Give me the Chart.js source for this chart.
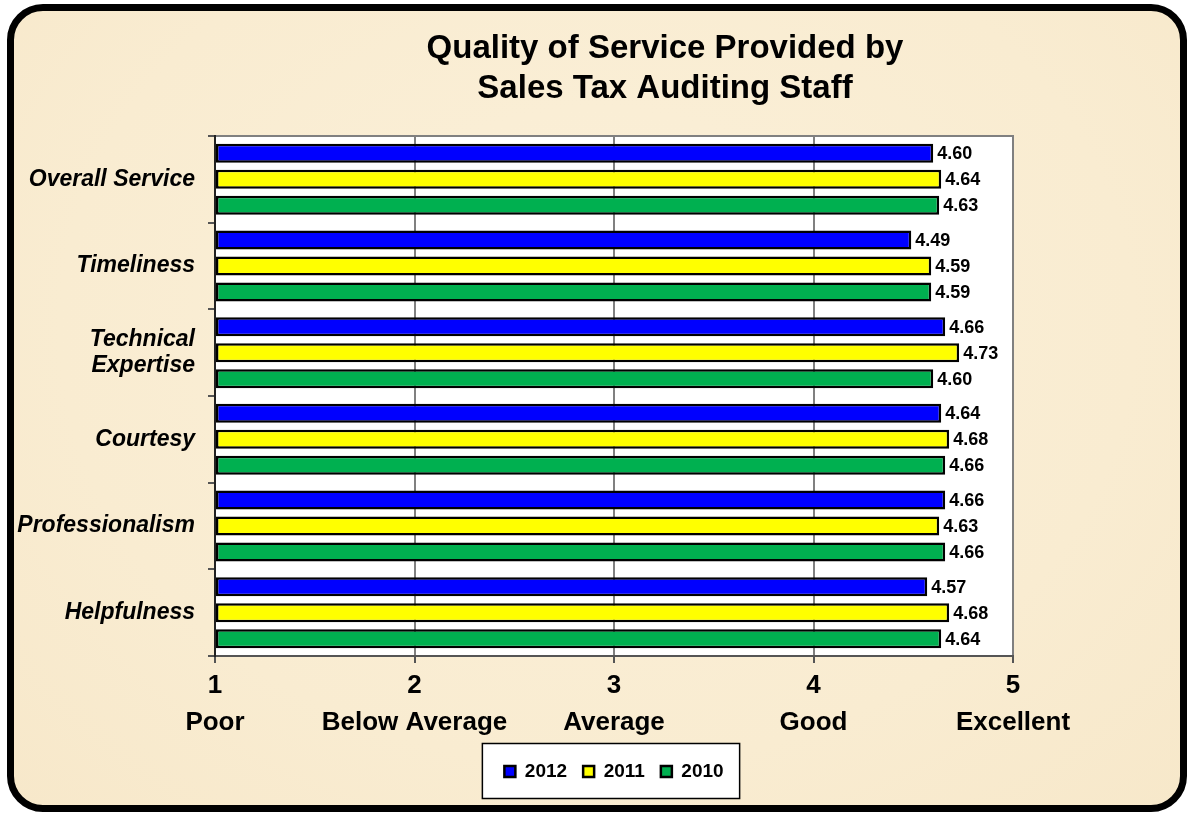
<!DOCTYPE html>
<html>
<head>
    <title>Quality of Service - Sales Tax Auditing Staff</title>
    <style>
        body {
            margin: 0;
            background: #ffffff;
        }
        #frame {
            position: absolute;
            left: 7px;
            top: 4px;
            width: 1180px;
            height: 808px;
            box-sizing: border-box;
            border: 7px solid #000;
            border-radius: 36px;
            background: radial-gradient(ellipse at 50% 40%, #fbf0d9 0%, #f9ecd1 65%, #f7e8ca 100%);
        }
        #chart {
            position: absolute;
            left: 0;
            top: 0;
        }
    </style>
</head>
<body>
    <div id="frame"></div>
    <canvas id="chart" width="1191" height="816"></canvas>
    <script src="https://cdn.jsdelivr.net/npm/chart.js"></script>
    <script>
        const titleLines = ['Quality of Service Provided by', 'Sales Tax Auditing Staff'];
        const categories = [
            'Overall Service',
            'Timeliness',
            ['Technical', 'Expertise'],
            'Courtesy',
            'Professionalism',
            'Helpfulness'
        ];
        const seriesNames = ['2012', '2011', '2010'];
        const values2012 = [4.60, 4.49, 4.66, 4.64, 4.66, 4.57];
        const values2011 = [4.64, 4.59, 4.73, 4.68, 4.63, 4.68];
        const values2010 = [4.63, 4.59, 4.60, 4.66, 4.66, 4.64];
        const scaleTicks = [1, 2, 3, 4, 5];
        const scaleNames = ['Poor', 'Below Average', 'Average', 'Good', 'Excellent'];

        const FONT = 'Arial, "Liberation Sans", sans-serif';
        const colors = ['#0000ff', '#ffff00', '#00b050'];

        // white plot area, title and the framed legend box
        const backdrop = {
            id: 'backdrop',
            beforeDraw(chart) {
                const ctx = chart.ctx;
                const a = chart.chartArea;
                ctx.save();
                ctx.fillStyle = '#ffffff';
                ctx.fillRect(a.left, a.top, a.right - a.left, a.bottom - a.top);
                ctx.strokeStyle = '#808080';
                ctx.lineWidth = 2;
                ctx.strokeRect(a.left, a.top, a.right - a.left, a.bottom - a.top);

                ctx.fillStyle = '#000';
                ctx.font = 'bold 33px ' + FONT;
                ctx.textAlign = 'center';
                ctx.textBaseline = 'middle';
                titleLines.forEach((line, i) => ctx.fillText(line, 665, 49 + i * 40));

                const boxes = chart.legend.legendHitBoxes;
                if (boxes && boxes.length) {
                    const first = boxes[0];
                    const last = boxes[boxes.length - 1];
                    const cy = first.top + first.height / 2;
                    const left = first.left - 22;
                    const right = last.left + last.width + 16;
                    ctx.fillStyle = '#ffffff';
                    ctx.fillRect(left, cy - 28, right - left, 55);
                    ctx.strokeStyle = '#000';
                    ctx.lineWidth = 1.5;
                    ctx.strokeRect(left, cy - 28, right - left, 55);
                }
                ctx.restore();
            }
        };

        // value labels at the end of each bar
        const valueLabels = {
            id: 'valueLabels',
            afterDatasetsDraw(chart) {
                const ctx = chart.ctx;
                ctx.save();
                ctx.fillStyle = '#000';
                ctx.font = 'bold 18px ' + FONT;
                ctx.textAlign = 'left';
                ctx.textBaseline = 'middle';
                chart.data.datasets.forEach((ds, i) => {
                    chart.getDatasetMeta(i).data.forEach((bar, j) => {
                        ctx.fillText(ds.data[j].toFixed(2), bar.x + 4, bar.y + 1);
                    });
                });
                ctx.restore();
            }
        };

        const allValues = [values2012, values2011, values2010];

        new Chart(document.getElementById('chart'), {
            type: 'bar',
            data: {
                labels: categories,
                datasets: seriesNames.map((name, i) => ({
                    label: name,
                    data: allValues[i],
                    base: 1,
                    backgroundColor: colors[i],
                    borderColor: '#000',
                    borderWidth: 2.5,
                    borderSkipped: false,
                    categoryPercentage: 0.9,
                    barPercentage: 0.73
                }))
            },
            options: {
                indexAxis: 'y',
                responsive: false,
                animation: false,
                devicePixelRatio: 1,
                layout: {
                    padding: { left: 15, right: 178, top: 136, bottom: 25 }
                },
                scales: {
                    x: {
                        min: 1,
                        max: 5,
                        afterBuildTicks(scale) {
                            scale.ticks = scaleTicks.map(v => ({ value: v }));
                        },
                        afterFit(scale) {
                            scale.height = 90;
                        },
                        grid: {
                            color: '#808080',
                            lineWidth: 2,
                            tickLength: 7,
                            tickColor: '#555'
                        },
                        border: { color: '#555', width: 2 },
                        ticks: {
                            padding: 5,
                            color: '#000',
                            font: { family: FONT, size: 26, weight: 'bold', lineHeight: 1.4 },
                            callback: (value) => [String(value), scaleNames[scaleTicks.indexOf(value)]]
                        }
                    },
                    y: {
                        afterFit(scale) {
                            scale.width = 200;
                        },
                        grid: {
                            drawOnChartArea: false,
                            offset: true,
                            tickLength: 7,
                            color: '#555',
                            lineWidth: 2
                        },
                        border: { color: '#222', width: 2 },
                        ticks: {
                            padding: 13,
                            color: '#000',
                            font: { family: FONT, size: 23, weight: 'bold', style: 'italic', lineHeight: 1.17 }
                        }
                    }
                },
                plugins: {
                    title: { display: false },
                    tooltip: { enabled: false },
                    legend: {
                        position: 'bottom',
                        fullSize: false,
                        labels: {
                            boxWidth: 11,
                            boxHeight: 11,
                            padding: 16,
                            color: '#000',
                            font: { family: FONT, size: 19, weight: 'bold' }
                        }
                    }
                }
            },
            plugins: [backdrop, valueLabels]
        });
    </script>
</body>
</html>
